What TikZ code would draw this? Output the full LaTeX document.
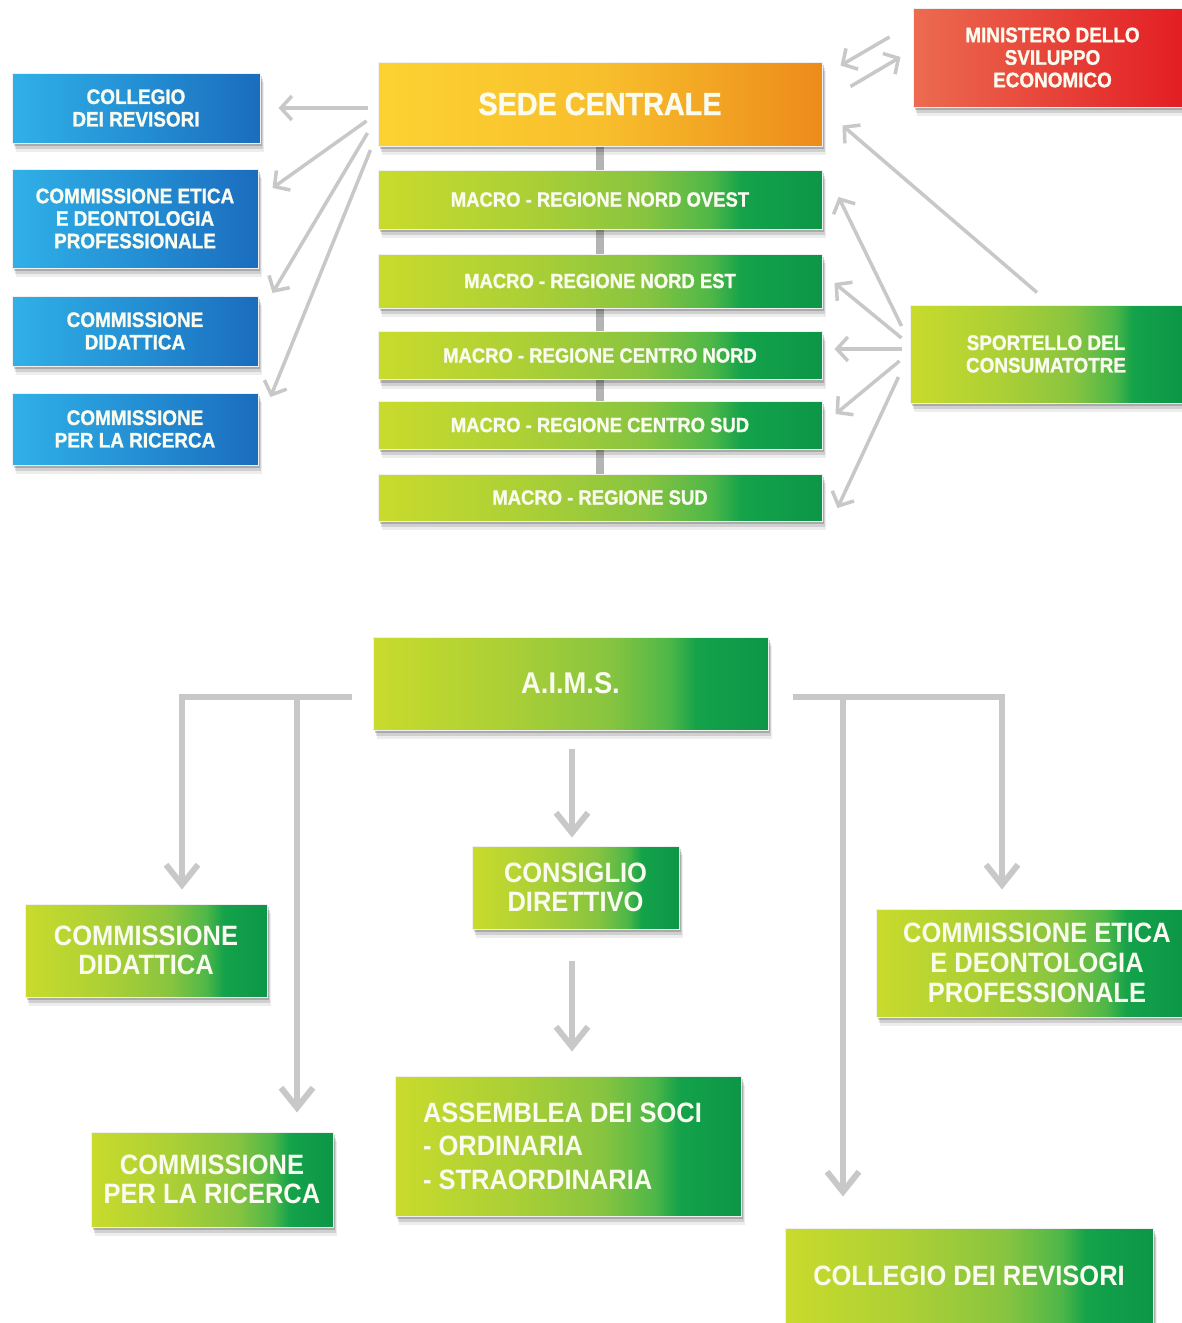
\documentclass[tikz,border=0pt]{standalone}
\usepackage{fontspec}
\setmainfont{Liberation Sans}[FakeStretch=0.91]
\newfontfamily\heavyfont{Liberation Sans}[FakeStretch=0.9, FakeBold=1.2]
\usetikzlibrary{arrows.meta,calc,shadows}
\definecolor{gr1}{HTML}{C9DB2C}
\definecolor{gr2}{HTML}{AACF36}
\definecolor{gr3}{HTML}{88C440}
\definecolor{gr4}{HTML}{4EB748}
\definecolor{gr5}{HTML}{14A24A}
\definecolor{gr6}{HTML}{0C9647}
\definecolor{bl1}{HTML}{30B0E8}
\definecolor{bl2}{HTML}{2490D4}
\definecolor{bl3}{HTML}{1B6CBE}
\definecolor{or1}{HTML}{FCD232}
\definecolor{or2}{HTML}{F8BF2C}
\definecolor{or3}{HTML}{ED8B1B}
\definecolor{rd1}{HTML}{EC6B50}
\definecolor{rd2}{HTML}{E31E24}
\definecolor{lgray}{HTML}{C8C8C8}
\definecolor{txt}{HTML}{FAFBEF}
\pgfdeclarehorizontalshading{greensh}{100bp}{color(0bp)=(gr1); color(25bp)=(gr1); color(42.5bp)=(gr2); color(55bp)=(gr3); color(62.5bp)=(gr4); color(66bp)=(gr5); color(75bp)=(gr6); color(100bp)=(gr6)}
\pgfdeclarehorizontalshading{bluesh}{100bp}{color(0bp)=(bl1); color(25bp)=(bl1); color(50bp)=(bl2); color(75bp)=(bl3); color(100bp)=(bl3)}
\pgfdeclarehorizontalshading{orangesh}{100bp}{color(0bp)=(or1); color(25bp)=(or1); color(50bp)=(or2); color(75bp)=(or3); color(100bp)=(or3)}
\pgfdeclarehorizontalshading{redsh}{100bp}{color(0bp)=(rd1); color(25bp)=(rd1); color(75bp)=(rd2); color(100bp)=(rd2)}
\pgfdeclarelayer{bg}
\pgfsetlayers{bg,main}
\begin{document}
\begin{tikzpicture}[x=1pt,y=-1pt,
  box/.style={rectangle, inner sep=0pt, text=txt, align=center,
    draw=white!88!gray, line width=1pt,
    drop shadow={shadow xshift=2pt,shadow yshift=-3pt,opacity=0.18,fill=black},
    drop shadow={shadow xshift=3pt,shadow yshift=-6pt,opacity=0.12,fill=black},
    drop shadow={shadow xshift=4pt,shadow yshift=-9pt,opacity=0.07,fill=black}},
  greenbox/.style={box, shading=greensh},
  bluebox/.style={box, shading=bluesh},
  orangebox/.style={box, shading=orangesh},
  redbox/.style={box, shading=redsh},
  ftop/.style={font=\fontsize{21}{22.5}\selectfont\heavyfont\bfseries},
  fmacro/.style={font=\fontsize{20.5}{22}\selectfont\heavyfont\bfseries},
  fbig/.style={font=\fontsize{28}{29}\selectfont\bfseries},
  arrT/.style={draw=lgray, line width=3.5pt, -{Straight Barb[length=11pt,width=24pt]}},
  arrB/.style={draw=lgray, line width=6pt, line join=miter, -{Straight Barb[length=20pt,width=32pt]}},
]
\useasboundingbox (0,0) rectangle (1182,1323);
\begin{pgfonlayer}{bg}
  \fill[white] (0,0) rectangle (1182,1323);
\end{pgfonlayer}

% ---------------- top chart ----------------
\node[bluebox, ftop, minimum width=248pt, minimum height=70pt] (colA) at (136,108) {COLLEGIO\\DEI REVISORI};
\node[bluebox, ftop, minimum width=246pt, minimum height=99pt] (etA) at (135,218.5) {COMMISSIONE ETICA\\E DEONTOLOGIA\\PROFESSIONALE};
\node[bluebox, ftop, minimum width=246pt, minimum height=70pt] (didA) at (135,331) {COMMISSIONE\\DIDATTICA};
\node[bluebox, ftop, minimum width=246pt, minimum height=72pt] (ricA) at (135,429) {COMMISSIONE\\PER LA RICERCA};

\node[orangebox, font=\fontsize{32}{34}\selectfont\heavyfont\bfseries, minimum width=444pt, minimum height=84pt] (sede) at (600,104) {SEDE CENTRALE};
\node[greenbox, fmacro, minimum width=444pt, minimum height=59pt] (mNO) at (600,199.5) {MACRO - REGIONE NORD OVEST};
\node[greenbox, fmacro, minimum width=444pt, minimum height=54pt] (mNE) at (600,281) {MACRO - REGIONE NORD EST};
\node[greenbox, fmacro, minimum width=444pt, minimum height=48pt] (mCN) at (600,355.5) {MACRO - REGIONE CENTRO NORD};
\node[greenbox, fmacro, minimum width=444pt, minimum height=48pt] (mCS) at (600,425) {MACRO - REGIONE CENTRO SUD};
\node[greenbox, fmacro, minimum width=444pt, minimum height=47pt] (mS) at (600,497.5) {MACRO - REGIONE SUD};

\node[redbox, ftop, minimum width=269pt, minimum height=99pt] (min) at (1047.5,57.5) {\hspace*{10pt}MINISTERO DELLO\\\hspace*{10pt}SVILUPPO\\\hspace*{10pt}ECONOMICO};
\node[greenbox, ftop, minimum width=272pt, minimum height=98pt] (sport) at (1046,354) {SPORTELLO DEL\\CONSUMATOTRE};

\begin{pgfonlayer}{bg}
  \draw[draw=lgray!90!black, line width=8pt] (sede.south) -- (mS.north);
\end{pgfonlayer}

% arrows from Sede Centrale to the left
\draw[arrT] ($(sede.west)+(-10,4)$) -- ($(colA.east)+(18,0)$);
\draw[arrT] ($(sede.west)+(-11,17)$) -- ($(etA.east)+(14,-30.5)$);
\draw[arrT] ($(sede.west)+(-10,29)$) -- ($(didA.east)+(14,-38)$);
\draw[arrT] ($(sede.west)+(-7,46)$) -- ($(ricA.east)+(12,-32)$);

% Ministero <-> Sede
\draw[arrT] ($(min.west)+(-23,-20.5)$) -- ($(sede.north east)+(18,4)$);
\draw[arrT] ($(sede.north east)+(28,25)$) -- ($(min.west)+(-12,-0.5)$);

% Sportello arrows
\draw[arrT] ($(sport.north)+(-9,-12)$) -- ($(sede.south east)+(20,-21)$);
\draw[arrT] ($(sport.west)+(-8,-28)$) -- ($(mNO.east)+(16,-2.5)$);
\draw[arrT] ($(sport.west)+(-8,-16)$) -- ($(mNE.east)+(12,2)$);
\draw[arrT] ($(sport.west)+(-8,-5)$) -- ($(mCN.east)+(12,-6.5)$);
\draw[arrT] ($(sport.west)+(-10,7)$) -- ($(mCS.east)+(13,-11)$);
\draw[arrT] ($(sport.west)+(-11,23)$) -- ($(mS.east)+(15,10.5)$);

% ---------------- bottom chart ----------------
\node[greenbox, font=\fontsize{30}{32}\selectfont\bfseries, minimum width=395pt, minimum height=93pt] (aims) at (570.5,683.5) {A.I.M.S.};
\node[greenbox, fbig, minimum width=207pt, minimum height=83pt] (cons) at (575.5,887.5) {CONSIGLIO\\DIRETTIVO};
\node[greenbox, font=\fontsize{28}{33.5}\selectfont\bfseries, align=flush left, text width=290pt, inner xsep=28pt, minimum height=140pt] (ass) at (568,1146) {ASSEMBLEA DEI SOCI\\- ORDINARIA\\- STRAORDINARIA};
\node[greenbox, fbig, minimum width=242pt, minimum height=93pt] (didB) at (146,950.5) {COMMISSIONE\\DIDATTICA};
\node[greenbox, fbig, minimum width=242pt, minimum height=95pt] (ricB) at (212,1179.5) {COMMISSIONE\\PER LA RICERCA};
\node[greenbox, font=\fontsize{28}{30}\selectfont\bfseries, minimum width=306pt, minimum height=108pt] (etB) at (1029,963) {\hspace*{16pt}COMMISSIONE ETICA\\\hspace*{16pt}E DEONTOLOGIA\\\hspace*{16pt}PROFESSIONALE};
\node[greenbox, fbig, minimum width=368pt, minimum height=95pt] (colB) at (969,1275.5) {COLLEGIO DEI REVISORI};

\coordinate (lbar) at ($(aims.west)+(-21,13.5)$);
\coordinate (rbar) at ($(aims.east)+(24,13.5)$);
\draw[arrB] (lbar) -| ($(didB.north)+(36,-14)$);
\draw[arrB] ({$(ricB.north)+(85,0)$} |- lbar) -- ($(ricB.north)+(85,-19)$);
\draw[arrB] (rbar) -| ($(etB.north)+(-27,-19)$);
\draw[arrB] ({$(colB.north)+(-126,0)$} |- rbar) -- ($(colB.north)+(-126,-31)$);
\draw[arrB] ($(aims.south)+(1.5,18)$) -- ($(cons.north)+(-3.5,-8)$);
\draw[arrB] ($(cons.south)+(-3.5,31)$) -- ($(ass.north)+(4,-24)$);
\end{tikzpicture}
\end{document}
